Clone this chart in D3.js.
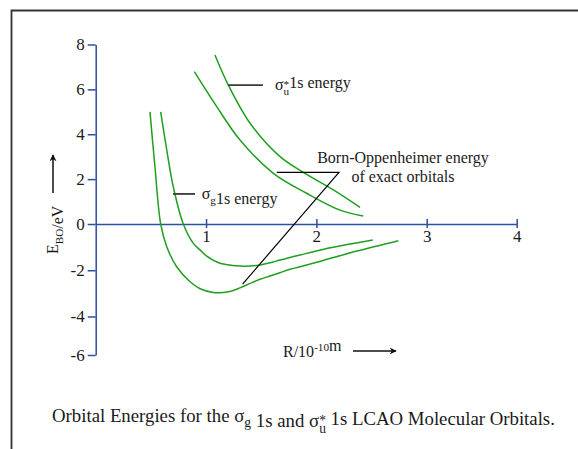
<!DOCTYPE html>
<html>
<head>
<meta charset="utf-8">
<script src="https://cdn.jsdelivr.net/npm/d3@7"></script>
<style>
  body { margin: 0; background: #fff; }
  svg text { font-family: "Liberation Serif", "Times New Roman", serif; fill: #1a1a1a; }
</style>
</head>
<body>
<div id="chart"></div>
<script>
// axis ticks
var xTicks = [1, 2, 3, 4];
var yTicks = [8, 6, 4, 2, 0, -2, -4, -6];

// curves: R (10^-10 m), E (eV)
var sigmaGExactR = [0.492, 0.537, 0.589, 0.644, 0.734, 0.855, 0.946, 1.066, 1.127, 1.217, 1.308, 1.399, 1.489, 1.580, 1.670, 1.761, 1.852, 2.060, 2.368, 2.743];
var sigmaGExactE = [5.00, 2.55, 0.00, -0.98, -1.85, -2.50, -2.80, -2.96, -2.97, -2.92, -2.76, -2.57, -2.39, -2.25, -2.11, -1.96, -1.85, -1.58, -1.17, -0.72];

var sigmaGLcaoR = [0.589, 0.644, 0.703, 0.794, 0.885, 0.945, 1.006, 1.127, 1.308, 1.399, 1.489, 1.580, 1.670, 1.852, 2.060, 2.278, 2.511];
var sigmaGLcaoE = [5.00, 3.30, 1.66, 0.00, -0.84, -1.12, -1.39, -1.70, -1.82, -1.82, -1.77, -1.68, -1.56, -1.34, -1.10, -0.89, -0.69];

var sigmaUExactR = [0.894, 1.097, 1.308, 1.610, 1.912, 2.214, 2.425];
var sigmaUExactE = [6.79, 5.23, 3.74, 2.26, 1.37, 0.62, 0.36];

var sigmaULcaoR = [1.081, 1.202, 1.399, 1.671, 1.882, 2.154, 2.396];
var sigmaULcaoE = [7.53, 6.19, 4.49, 3.00, 2.30, 1.52, 0.74];

// pointer lines for the labels (data units)
var sigmaUPointer = [[1.199, 6.19], [1.516, 6.19]];
var sigmaGPointer = [[0.701, 1.34], [0.900, 1.34]];
var boPointer = [[1.641, 2.30], [2.205, 2.30], [1.331, -2.60]];

var width = 578, height = 449;
var axisColor = "#2d4f9e", curveColor = "#1f9f1f", inkColor = "#1a1a1a";
var serif = "'Liberation Serif', 'Times New Roman', serif";

var svg = d3.select("#chart").append("svg")
    .attr("width", width)
    .attr("height", height);

// frame (top and left rules only)
svg.append("path")
    .attr("d", "M11.5,449V10.5H578")
    .style("fill", "none")
    .style("stroke", "#333")
    .style("stroke-width", 1.8);

// scales: the drawing squeezes the last tick interval on both axes
var xScale = d3.scaleLinear()
    .domain([0, 3, 4])
    .range([95.7, 426.7, 516.7]);

var yScale = d3.scaleLinear()
    .domain([-6, -4, 0, 8])
    .range([355, 316.5, 224, 44.5]);

// y axis
var yAxis = svg.append("g")
    .attr("class", "y axis")
    .attr("transform", "translate(" + xScale(0) + ",0)")
    .call(d3.axisLeft(yScale)
        .tickValues(yTicks)
        .tickFormat(function(d) { return String(d); })
        .tickSizeInner(8)
        .tickSizeOuter(0)
        .tickPadding(3));

// x axis sits on E = 0, ticks cross the line
var xAxis = svg.append("g")
    .attr("class", "x axis")
    .attr("transform", "translate(0," + yScale(0) + ")")
    .call(d3.axisBottom(xScale)
        .tickValues(xTicks)
        .tickFormat(function(d) { return String(d); })
        .tickSizeInner(4)
        .tickSizeOuter(0)
        .tickPadding(2));
xAxis.selectAll(".tick line").attr("y1", -5);

svg.selectAll(".axis").attr("font-family", serif).attr("font-size", 17);
svg.selectAll(".axis path, .axis line")
    .style("stroke", axisColor)
    .style("stroke-width", 1.5);
svg.selectAll(".axis text")
    .style("font-size", "17px")
    .style("font-family", serif)
    .style("fill", inkColor);

// curves
var line = d3.line()
    .x(function(d) { return xScale(d[0]); })
    .y(function(d) { return yScale(d[1]); })
    .curve(d3.curveCatmullRom.alpha(0.5));

function zipSeries(rs, es) {
  return rs.map(function(r, i) { return [r, es[i]]; });
}

var curves = [
  zipSeries(sigmaGExactR, sigmaGExactE),
  zipSeries(sigmaGLcaoR, sigmaGLcaoE),
  zipSeries(sigmaUExactR, sigmaUExactE),
  zipSeries(sigmaULcaoR, sigmaULcaoE)
];

svg.selectAll(".curve")
    .data(curves)
    .enter().append("path")
    .attr("class", "curve")
    .attr("d", line)
    .style("fill", "none")
    .style("stroke", curveColor)
    .style("stroke-width", 1.5);

// label pointers
var pointerLine = d3.line()
    .x(function(d) { return xScale(d[0]); })
    .y(function(d) { return yScale(d[1]); });

svg.selectAll(".pointer")
    .data([sigmaUPointer, sigmaGPointer, boPointer])
    .enter().append("path")
    .attr("class", "pointer")
    .attr("d", pointerLine)
    .style("fill", "none")
    .style("stroke", function(d, i) { return i < 2 ? "#3a3a3a" : "#000"; })
    .style("stroke-width", function(d, i) { return i < 2 ? 1.8 : 1.2; });

// text with sub/superscripts: parts are {t, sub, sup, stack}
function richText(x, y, parts, size, anchor, ratio) {
  var t = svg.append("text")
      .attr("x", x)
      .attr("y", y)
      .style("font-size", size + "px")
      .style("font-family", serif)
      .attr("text-anchor", anchor || "start");
  var small = size * (ratio || 0.7);
  parts.forEach(function(p) {
    if (p.sub) {
      var s = t.append("tspan").attr("dy", size * 0.3).style("font-size", small + "px").text(p.t);
      if (p.stack) {
        var w = s.node().getComputedTextLength();
        t.append("tspan").attr("dx", -w).attr("dy", -size * 0.45).style("font-size", small + "px").text(p.stack);
        t.append("tspan").attr("dy", size * 0.15).text("");
      } else {
        t.append("tspan").attr("dy", -size * 0.3).text("");
      }
    } else if (p.sup) {
      t.append("tspan").attr("dy", -size * 0.38).style("font-size", small + "px").text(p.t);
      t.append("tspan").attr("dy", size * 0.38).text("");
    } else {
      t.append("tspan").text(p.t);
    }
  });
  return t;
}

richText(xScale(1.625), yScale(5.97), [{t: "σ"}, {t: "u", sub: true, stack: "*"}, {t: "1s energy"}], 16);
richText(xScale(0.961), yScale(1.11), [{t: "σ"}, {t: "g", sub: true}, {t: "1s energy"}], 16);
richText(xScale(2.785), yScale(2.70), [{t: "Born-Oppenheimer energy"}], 16, "middle");
richText(xScale(2.785), yScale(1.86), [{t: "of exact orbitals"}], 16, "middle");

// axis titles with arrows
svg.append("defs").append("marker")
    .attr("id", "arrow")
    .attr("viewBox", "0 0 10 10")
    .attr("refX", 9).attr("refY", 5)
    .attr("markerWidth", 7).attr("markerHeight", 7)
    .attr("markerUnits", "userSpaceOnUse")
    .attr("orient", "auto")
  .append("path")
    .attr("d", "M0,0L10,5L0,10L3,5Z")
    .style("fill", "#111");

var yTitle = richText(0, 0, [{t: "E"}, {t: "BO", sub: true}, {t: "/eV"}], 16);
yTitle.attr("transform", "translate(58,254) rotate(-90)");
svg.append("line")
    .attr("x1", 53).attr("y1", 193)
    .attr("x2", 53).attr("y2", 155)
    .attr("marker-end", "url(#arrow)")
    .style("stroke", "#111").style("stroke-width", 1.5);

richText(283, 357, [{t: "R/10"}, {t: "-10", sup: true}, {t: "m"}], 16);
svg.append("line")
    .attr("x1", 353).attr("y1", 351)
    .attr("x2", 396).attr("y2", 351)
    .attr("marker-end", "url(#arrow)")
    .style("stroke", "#111").style("stroke-width", 1.5);

// caption
richText(52, 421.7, [
  {t: "Orbital Energies for the σ"}, {t: "g", sub: true}, {t: " 1s and σ"},
  {t: "u", sub: true, stack: "*"}, {t: " 1s LCAO Molecular Orbitals."}
], 18.8, "start", 0.72);
</script>
</body>
</html>
